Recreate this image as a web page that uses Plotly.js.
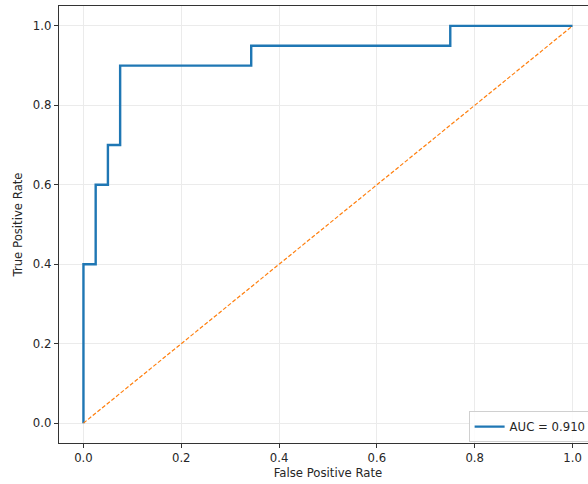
<!DOCTYPE html>
<html>
<head>
<meta charset="utf-8">
<script src="https://cdn.plot.ly/plotly-3.0.1.min.js"></script>
<style>
html,body{margin:0;padding:0;background:#fff;overflow:hidden;}
#wrap{width:588px;height:484px;overflow:hidden;}
#chart{width:598px;height:484px;}
</style>
</head>
<body>
<div id="wrap"><div id="chart"></div></div>
<script>
// ROC curve points
const fpr = [0, 0, 0.025, 0.025, 0.05, 0.05, 0.075, 0.075, 0.343, 0.343, 0.75, 0.75, 1.0];
const tpr = [0, 0.4, 0.4, 0.6, 0.6, 0.7, 0.7, 0.9, 0.9, 0.95, 0.95, 1.0, 1.0];
const chanceX = [0, 1];
const chanceY = [0, 1];
const aucLabel = "AUC = 0.910";
const tickVals = [0, 0.2, 0.4, 0.6, 0.8, 1.0];
const tickText = ["0.0", "0.2", "0.4", "0.6", "0.8", "1.0"];

const FONT = "DejaVu Sans, sans-serif";
const FS = 11.7;

const traces = [
  {x: fpr, y: tpr, mode: "lines", name: aucLabel,
   line: {color: "#1f77b4", width: 2.4}, showlegend: true},
  {x: chanceX, y: chanceY, mode: "lines", name: "chance",
   line: {color: "#ff7f0e", width: 1.2, dash: "4px,2px"}, showlegend: false}
];

const axisBase = {
  range: [-0.05, 1.05],
  tickvals: tickVals, ticktext: tickText,
  showgrid: true, gridcolor: "#ebebeb", gridwidth: 1,
  zeroline: false,
  showline: true, linecolor: "#333", linewidth: 1.2, mirror: true,
  ticks: "outside", ticklen: 4, tickcolor: "#333", tickwidth: 1,
  tickfont: {family: FONT, size: FS, color: "#262626"}
};

const layout = {
  width: 598, height: 484,
  margin: {l: 59, r: 1, t: 6, b: 41},
  paper_bgcolor: "#fff", plot_bgcolor: "#fff",
  font: {family: FONT, size: FS, color: "#262626"},
  xaxis: Object.assign({}, axisBase, {
    title: {text: "False Positive Rate", font: {family: FONT, size: FS, color: "#262626"}, standoff: 4}
  }),
  yaxis: Object.assign({}, axisBase, {
    title: {text: "True Positive Rate", font: {family: FONT, size: FS, color: "#262626"}, standoff: 7}
  }),
  legend: {
    x: 0.99, y: 0.002, xanchor: "right", yanchor: "bottom",
    bgcolor: "rgba(255,255,255,0.85)", bordercolor: "#d0d0d0", borderwidth: 1,
    font: {family: FONT, size: FS, color: "#262626"},
    itemwidth: 30, tracegroupgap: 0
  },
  showlegend: true
};

Plotly.newPlot("chart", traces, layout, {displayModeBar: false, staticPlot: true});
</script>
</body>
</html>
